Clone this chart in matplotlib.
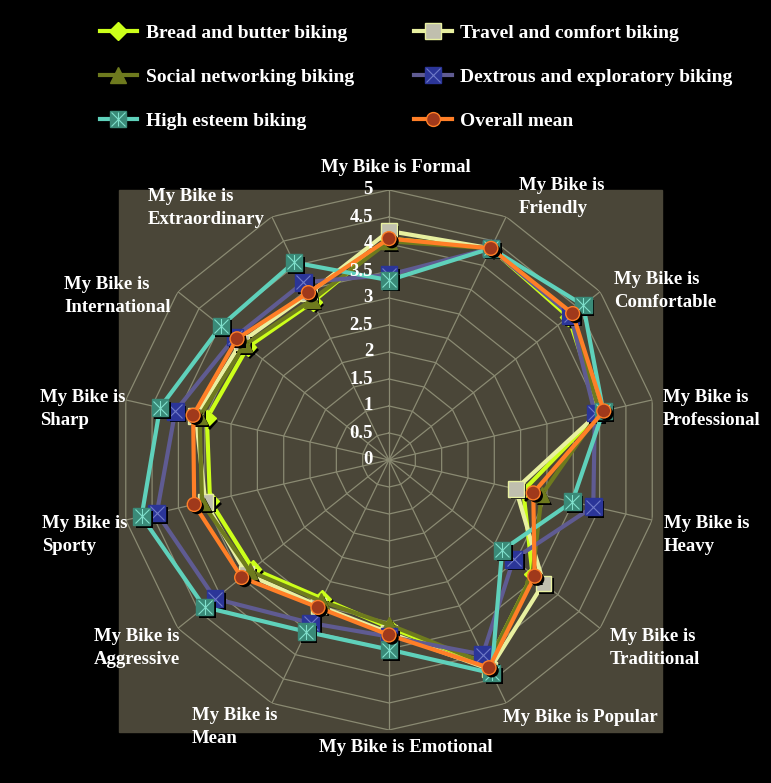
import numpy as np
import matplotlib.pyplot as plt
from matplotlib import patheffects as pe
from matplotlib.patches import Rectangle
from matplotlib.lines import Line2D

plt.rcParams['font.family'] = ['Liberation Serif', 'DejaVu Serif']
plt.rcParams['font.weight'] = 'bold'

categories = ["My Bike is Formal", "My Bike is\nFriendly", "My Bike is\nComfortable",
              "My Bike is\nProfessional", "My Bike is\nHeavy", "My Bike is\nTraditional",
              "My Bike is Popular", "My Bike is Emotional", "My Bike is\nMean",
              "My Bike is\nAggressive", "My Bike is\nSporty", "My Bike is\nSharp",
              "My Bike is\nInternational", "My Bike is\nExtraordinary"]

series_names = ["Bread and butter biking", "Travel and comfort biking",
                "Social networking biking", "Dextrous and exploratory biking",
                "High esteem biking", "Overall mean"]

bread = [4.10, 4.35, 4.25, 4.00, 2.55, 3.40, 4.20, 3.10, 2.85, 3.23, 3.40, 3.46, 3.35, 3.25]
travel = [4.24, 4.35, 4.30, 4.00, 2.41, 3.66, 4.30, 3.20, 3.00, 3.38, 3.49, 3.67, 3.50, 3.42]
social = [4.05, 4.35, 4.30, 4.00, 2.90, 3.40, 4.20, 3.05, 2.90, 3.30, 3.55, 3.60, 3.42, 3.29]
dextrous = [3.43, 4.35, 4.30, 3.91, 3.88, 2.95, 4.00, 3.27, 3.35, 4.12, 4.41, 4.06, 3.65, 3.65]
high_esteem = [3.33, 4.35, 4.60, 4.07, 3.48, 2.68, 4.38, 3.51, 3.53, 4.37, 4.70, 4.35, 3.98, 4.06]
overall = [4.10, 4.35, 4.35, 4.08, 2.74, 3.45, 4.27, 3.24, 3.03, 3.49, 3.70, 3.72, 3.60, 3.44]

ticks = [0, 0.5, 1, 1.5, 2, 2.5, 3, 3.5, 4, 4.5, 5]

# style per series: line colour, marker, marker face, marker edge, size, overlay colour
styles = [
    ('#ccff1a', 'D', '#ccff1a', '#ccff1a', 9, None),
    ('#e8f0a0', 's', '#c0bfae', '#e8f0a0', 11, None),
    ('#6e7a1e', '^', '#6e7a1e', '#6e7a1e', 11, None),
    ('#5f5b92', 's', '#2b3598', '#2b3598', 12, '#6f7ac8'),
    ('#5fd1bb', 's', '#3a8a78', '#3a8a78', 12, '#80e0cc'),
    ('#ff7f27', 'o', '#a0391b', '#ff7f27', 10, None),
]

W, H = 771, 783
fig = plt.figure(figsize=(W / 100, H / 100), dpi=100, facecolor='black')
fig.patches.append(Rectangle((119 / W, 1 - 732 / H), 543 / W, 542 / H,
                             transform=fig.transFigure, color='#4a4638', zorder=-1))

cx, cy, R = 389, 460, 270
ax = fig.add_axes([(cx - R) / W, (H - cy - R) / H, 2 * R / W, 2 * R / H], projection='polar')
ax.set_theta_offset(np.pi / 2)
ax.set_theta_direction(-1)
ax.set_ylim(0, 5)
ax.axis('off')

n = len(categories)
angles = np.linspace(0, 2 * np.pi, n, endpoint=False)
closed = np.append(angles, angles[0])

grid_col = '#8a8a72'
for r in ticks[1:]:
    ax.plot(closed, [r] * (n + 1), color=grid_col, lw=0.9, zorder=1)
for a in angles:
    ax.plot([a, a], [0, 5], color=grid_col, lw=0.9, zorder=1)

shadow = [pe.SimplePatchShadow(offset=(2, -2), shadow_rgbFace='black', alpha=1), pe.Normal()]
handles = []
all_series = [bread, travel, social, dextrous, high_esteem, overall]
for i, (vals, st) in enumerate(zip(all_series, styles)):
    lc, mk, mfc, mec, ms, over = st
    z = 3 + i * 2
    v = np.append(vals, vals[0])
    ax.plot(closed, v, color=lc, lw=3, zorder=z, solid_joinstyle='round')
    ax.plot(angles, vals, ls='none', marker=mk, ms=ms, mfc=mfc, mec=mec, mew=1,
            path_effects=shadow, zorder=z + 1)
    h = [Line2D([], [], color=lc, lw=3, marker=mk, ms=ms, mfc=mfc, mec=mec, mew=1)]
    if over:
        ax.plot(angles, vals, ls='none', marker='x', ms=ms * 0.8, mew=0.8, color=over, zorder=z + 1)
        h.append(Line2D([], [], ls='none', marker='x', ms=ms * 0.8, mew=0.8, color=over))
        if i == 4:
            ax.plot(angles, vals, ls='none', marker='|', ms=ms * 0.8, mew=0.8, color=over, zorder=z + 1)
            h.append(Line2D([], [], ls='none', marker='|', ms=ms * 0.8, mew=0.8, color=over))
    handles.append(tuple(h))

for r in ticks:
    ax.annotate(f'{r:g}', xy=(0, r), xytext=(-11.5, 0), textcoords='offset points',
                ha='right', va='center', color='white', fontsize=13.5, zorder=20)

# category label anchors in pixels (x, y, ha)
label_pos = [(396, 167, 'center'), (519, 197, 'left'), (614, 291, 'left'), (663, 409, 'left'),
             (664, 535, 'left'), (610, 648, 'left'), (503, 718, 'left'), (406, 748, 'center'),
             (192, 727, 'left'), (94, 648, 'left'), (42, 535, 'left'), (40, 409, 'left'),
             (64, 296, 'left'), (148, 208, 'left')]
for text, (x, y, ha) in zip(categories, label_pos):
    fig.text(x / W, 1 - y / H, text, ha=ha, va='center', color='white', fontsize=13.5,
             linespacing=1.5, multialignment='left')

# legend filled column-wise, so reorder to read row-wise like the original
order = [0, 2, 4, 1, 3, 5]
fig.legend([handles[k] for k in order], [series_names[k] for k in order], ncol=2,
           loc='upper left', bbox_to_anchor=(82 / W, 1 - 7 / H),
           frameon=False, fontsize=14, labelcolor='white', handlelength=1.95,
           handletextpad=0.45, columnspacing=3.05, labelspacing=1.35, numpoints=1)

fig.savefig('out.png', dpi=100, facecolor='black')
